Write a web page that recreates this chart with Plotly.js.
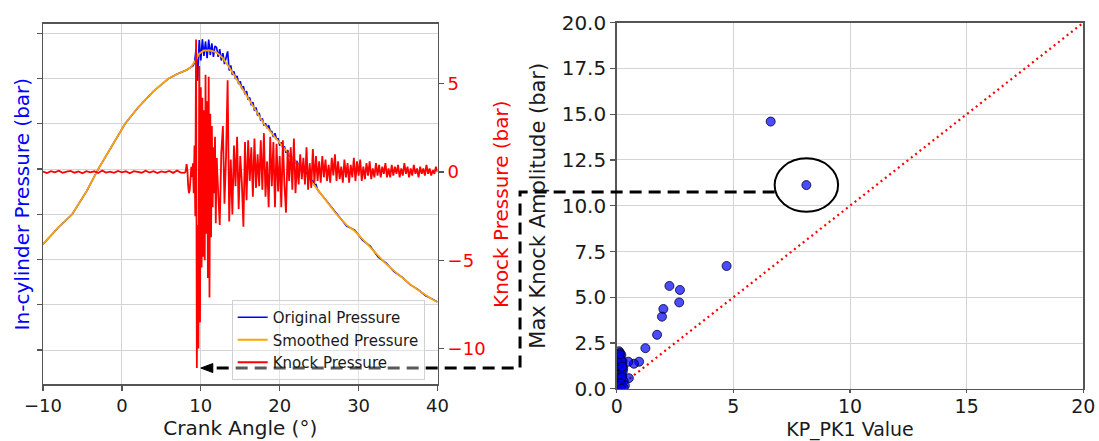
<!DOCTYPE html>
<html>
<head>
<meta charset="utf-8">
<script src="https://cdn.plot.ly/plotly-3.0.1.min.js"></script>
<style>html,body{margin:0;padding:0;background:#fff;}#chart{width:1099px;height:441px;}</style>
</head>
<body>
<div id="chart"></div>
<script>
// ---------------- DATA ----------------
// Left panel: in-cylinder pressure (bar, left axis, labels hidden in source)
const smoothAngle = [-10,-8,-6.3,-4.5,-3,-1.3,0.4,2,4,5.9,7,8.2,8.8,9.3,9.8,10.4,11.2,12,12.8,13.6,14.5,15.5,16.5,17.3,18,19,20,21,22,22.8,24,25,26,27.2,28.5,29.5,30.5,31.5,32.5,33.5,34.5,35.5,36.5,37.5,38.5,39.3,40];
const smoothPressure = [33.4,37.2,40,45,50,55,60,63.5,67.2,70,71,71.9,72.6,74,75.5,76.2,76.2,75.8,74.5,72.5,70,67.2,64.3,62,60,57.9,55.8,53.7,51.7,50,47.3,45,42.6,40,37.6,36.3,34.5,32.7,30.7,29,27.5,26,24.6,23.3,22.1,21.2,20.6];

const origAngle = [-10,-8,-6.3,-4.5,-3,-1.3,0.4,2,4,5.9,7,8.2,8.8,
  9.0,9.2,9.4,9.6,9.8,10.0,10.2,10.4,10.6,10.8,
  11.0,11.2,11.4,11.6,11.8,12.0,12.2,12.4,12.6,12.8,
  13.0,13.2,13.4,13.6,13.8,14.0,14.2,14.4,14.6,14.8,
  15.0,15.2,15.4,15.6,15.8,16.0,16.2,16.4,16.6,16.8,
  17.0,17.2,17.4,17.6,17.8,18.0,18.2,18.4,18.6,18.8,
  19.0,19.2,19.4,19.6,19.8,20.0,20.2,20.4,20.6,20.8,
  21.0,21.2,21.4,21.6,21.8,22.0,22.2,22.4,22.6,22.8,
  23.0,23.2,23.4,23.6,23.8,24.0,24.2,24.4,24.6,24.8,
  25.0,26,27.2,28.5,29.5,30.5,31.5,32.5,33.5,34.5,35.5,36.5,37.5,38.5,39.3,40];
const origPressure = [33.4,37.2,40,45,50,55,60,63.5,67.2,70,71,71.9,72.6,
  72.8,73.5,76.5,69.5,78.5,74.0,78.7,75.0,78.2,74.5,
  78.6,75.2,77.8,74.8,77.2,76.9,74.8,76.5,74.0,75.6,
  73.2,74.6,76.0,71.8,72.9,70.8,71.6,69.9,70.6,68.8,
  69.4,67.7,68.3,66.5,67.2,65.3,65.8,64.1,64.8,62.9,
  63.6,61.8,62.4,60.7,61.2,59.6,60.1,59.0,59.7,58.4,
  58.3,57.1,57.9,56.6,56.7,55.2,55.9,54.6,55.0,53.6,
  54.2,52.8,53.4,52.1,52.5,51.3,51.8,50.5,50.9,49.6,
  50.0,49.0,49.2,48.1,48.4,47.0,47.4,46.5,46.6,45.4,
  45.0,42.8,40.2,37.4,36.5,34.3,32.9,30.5,29.2,27.3,26.1,24.5,23.4,22.0,21.3,20.6];

// Knock pressure (bar, right axis), sampled on three grids
const knockStartA = -10, knockStepA = 0.5;   // -10 .. 8
const knockA = [0.03,-0.06,0.05,-0.02,0.07,-0.05,0.02,0.06,-0.04,0.03,
  -0.07,0.05,-0.02,0.04,-0.06,0.08,-0.03,0.02,-0.05,0.06,
  -0.02,0.04,-0.07,0.05,0.01,-0.04,0.07,-0.03,0.05,-0.06,
  0.03,-0.02,0.06,-0.05,0.08,-0.04,-0.05];
const knockStartB = 8, knockStepB = 0.1;     // 8 .. 12
const knockB = [-0.05,0.1,0.45,0.1,-0.8,-1.2,-1.0,-0.2,0.3,-0.3,
  0.5,-1.2,1.5,-2.5,7.5,-11.1,-3.0,-10.0,6.0,-8.5,
  4.8,-5.4,4.2,-4.8,3.5,-5.0,5.5,-3.5,4.0,-6.0,
  5.4,-7.1,3.3,-3.7,2.6,-2.0,1.4,-1.2,2.0,-2.9,
  0.8];
const knockStartC = 12, knockStepC = 0.2;    // 12 .. 40
const knockC = [0.8,-1.6,-3.0,1.1,2.6,-1.8,0.9,5.2,-2.8,0.7,
  -2.4,1.5,-0.8,2.0,-2.1,0.9,-0.6,-3.1,1.7,-1.6,
  1.8,-0.5,1.4,-1.4,1.9,-0.9,1.0,-0.8,1.8,-1.0,
  2.2,-1.4,0.6,-2.0,2.0,-0.8,1.7,-2.0,1.6,-1.1,
  0.9,-2.0,1.8,-0.7,-2.3,1.2,-0.5,1.4,-1.0,1.9,
  -1.2,0.6,-0.7,1.0,-0.4,0.8,-0.7,1.4,-1.0,0.5,
  -0.9,1.3,-0.6,0.9,-0.5,0.6,-0.6,0.9,-0.3,0.7,
  -0.5,0.4,-0.6,0.8,-0.2,1.0,-0.5,0.6,-0.4,0.3,
  -0.6,0.7,-0.3,0.5,-0.6,0.4,-0.3,0.8,-0.5,0.6,
  -0.2,0.7,-0.5,0.3,-0.4,0.5,-0.2,0.6,-0.4,0.2,
  -0.3,0.5,-0.2,0.4,-0.3,0.3,-0.1,0.5,-0.3,0.2,
  -0.3,0.4,-0.2,0.3,-0.1,0.4,-0.3,0.2,-0.2,0.5,
  -0.1,0.3,-0.3,0.2,-0.2,0.4,-0.1,0.2,-0.3,0.3,
  -0.1,0.2,-0.2,0.4,-0.1,0.2,-0.2,0.1,-0.1,0.3,
  0.0];

// Right panel: KP_PK1 value vs max knock amplitude
const kpValue = [6.6,8.13,4.71,2.26,2.71,2.68,2.0,1.94,1.73,1.23,0.96,0.74,0.5,0.52,
  0.1,0.15,0.2,0.12,0.18,0.25,0.1,0.22,0.15,0.28,0.12,0.2,0.17,0.1,0.24,0.14,0.2,0.3,
  0.12,0.18,0.22,0.15,0.1,0.26,0.19,0.13,0.21,0.16,0.11,0.23,0.35,0.3,0.2];
const maxAmplitude = [14.6,11.13,6.71,5.62,5.4,4.72,4.36,3.94,2.95,2.22,1.48,1.37,1.48,0.58,
  2.05,1.95,1.85,1.75,1.62,1.5,1.42,1.3,1.22,1.12,1.02,0.92,0.85,0.75,0.68,0.58,0.5,0.42,
  0.35,0.28,0.2,0.12,0.05,0.95,1.55,1.88,0.62,0.3,0.15,1.2,0.18,0.05,0.0];
const identityLine = [0, 20];
const circledIndex = 1;           // highlighted event
const connectorLevel = 10.75;     // level (right y) where dashed connector leaves the circle

// ---------------- LAYOUT GEOMETRY ----------------
const leftXDom = [0.03913, 0.39809], leftYDom = [0.12857, 0.94558];
const rightXDom = [0.56115, 0.98571], rightYDom = [0.11837, 0.94853];
const angleRange = [-10, 40], pressureRange = [2.42, 82.06], knockRange = [-12.02, 8.38];
const kpRange = [0, 20], ampRange = [0, 20];
const W = 1099, H = 441;
const FONT = '"DejaVu Sans", Verdana, sans-serif';
const AX = '#555555', GRID = '#d4d4d4';

function toPaper(v, dom, rng) { return dom[0] + (v - rng[0]) / (rng[1] - rng[0]) * (dom[1] - dom[0]); }

// knock minimum location
let minVal = Infinity, minIdx = 0;
knockB.forEach((v, i) => { if (v < minVal) { minVal = v; minIdx = i; } });
const knockMinAngle = knockStartB + minIdx * knockStepB;

const cx = kpValue[circledIndex], cy = maxAmplitude[circledIndex];
const rx = 1.36, ry = 1.46;

const startX = toPaper(cx - rx, rightXDom, kpRange);
const startY = toPaper(connectorLevel, rightYDom, ampRange);
const elbowX = 0.4732;
const endY = toPaper(minVal, leftYDom, knockRange);
const tipX = toPaper(knockMinAngle + 0.5, leftXDom, angleRange);
const headL = 12 / W, headH = 4.5 / H;

// ---------------- TRACES ----------------
const traces = [
  {x: origAngle, y: origPressure, xaxis: 'x', yaxis: 'y', type: 'scatter', mode: 'lines',
   name: 'Original Pressure', line: {color: '#0000ff', width: 1.6}},
  {x: smoothAngle, y: smoothPressure, xaxis: 'x', yaxis: 'y', type: 'scatter', mode: 'lines',
   name: 'Smoothed Pressure', line: {color: '#ffa500', width: 1.8}},
  {x0: knockStartA, dx: knockStepA, y: knockA, xaxis: 'x', yaxis: 'y2', type: 'scatter', mode: 'lines',
   name: 'Knock Pressure', legendgroup: 'knock', line: {color: '#ff0000', width: 1.8}},
  {x0: knockStartB, dx: knockStepB, y: knockB, xaxis: 'x', yaxis: 'y2', type: 'scatter', mode: 'lines',
   name: 'Knock Pressure', legendgroup: 'knock', showlegend: false, line: {color: '#ff0000', width: 1.8}},
  {x0: knockStartC, dx: knockStepC, y: knockC, xaxis: 'x', yaxis: 'y2', type: 'scatter', mode: 'lines',
   name: 'Knock Pressure', legendgroup: 'knock', showlegend: false, line: {color: '#ff0000', width: 1.8}},
  {x: identityLine, y: identityLine, xaxis: 'x3', yaxis: 'y3', type: 'scatter', mode: 'lines',
   showlegend: false, line: {color: '#ff0000', width: 2.2, dash: '2px,3.5px'}},
  {x: kpValue, y: maxAmplitude, xaxis: 'x3', yaxis: 'y3', type: 'scatter', mode: 'markers',
   showlegend: false, marker: {size: 9, color: 'rgba(0,0,255,0.7)', line: {color: 'rgba(0,0,40,0.8)', width: 1}}}
];

const common = {ticks: 'outside', ticklen: 5, tickcolor: AX, tickwidth: 1.2, showline: true, linecolor: AX,
  linewidth: 1.5, gridcolor: GRID, gridwidth: 1, zeroline: false, automargin: false};

const layout = {
  width: W, height: H, margin: {l: 0, r: 0, t: 0, b: 0},
  paper_bgcolor: '#ffffff', plot_bgcolor: '#ffffff',
  font: {family: FONT, color: '#1a1a1a'},
  showlegend: true,
  legend: {x: 0.2108, y: 0.3197, xanchor: 'left', yanchor: 'top', bgcolor: 'rgba(255,255,255,0.35)',
    bordercolor: '#d0d0d0', borderwidth: 1, tracegroupgap: 0,
    font: {size: 15, family: FONT, color: '#1a1a1a'}},
  xaxis: Object.assign({}, common, {domain: leftXDom, range: angleRange, anchor: 'y', dtick: 10, tick0: 0,
    mirror: true, showgrid: true, tickfont: {size: 18},
    title: {text: 'Crank Angle (°)', font: {size: 20}, standoff: 2}}),
  yaxis: Object.assign({}, common, {domain: leftYDom, range: pressureRange, anchor: 'x', dtick: 10, tick0: 0,
    showticklabels: false, showgrid: true,
    title: {text: 'In-cylinder Pressure (bar)', font: {size: 20, color: '#0000ff'}, standoff: 1}}),
  yaxis2: Object.assign({}, common, {overlaying: 'y', side: 'right', anchor: 'x', range: knockRange,
    dtick: 5, tick0: 0, showgrid: false, tickfont: {size: 18, color: '#ff0000'},
    title: {text: 'Knock Pressure (bar)', font: {size: 20, color: '#ff0000'}, standoff: 9}}),
  xaxis3: Object.assign({}, common, {domain: rightXDom, range: kpRange, anchor: 'y3', dtick: 5, tick0: 0,
    mirror: true, showgrid: true, tickfont: {size: 19}, ticklen: 3, ticklabelstandoff: -3,
    title: {text: 'KP_PK1 Value', font: {size: 19}, standoff: 8}}),
  yaxis3: Object.assign({}, common, {domain: rightYDom, range: ampRange, anchor: 'x3', dtick: 2.5, tick0: 0,
    tickformat: '.1f', mirror: true, showgrid: true, tickfont: {size: 20},
    title: {text: 'Max Knock Amplitude (bar)', font: {size: 21}, standoff: 10}}),
  shapes: [
    {type: 'circle', xref: 'x3', yref: 'y3', x0: cx - rx, x1: cx + rx, y0: cy - ry, y1: cy + ry,
     line: {color: '#000000', width: 2}, layer: 'above'},
    {type: 'path', xref: 'paper', yref: 'paper', layer: 'above',
     path: `M ${startX},${startY} H ${elbowX} V ${endY} H ${tipX + headL}`,
     line: {color: '#000000', width: 3, dash: '12px,7px'}},
    {type: 'path', xref: 'paper', yref: 'paper', layer: 'above',
     path: `M ${tipX},${endY} L ${tipX + headL},${endY + headH} L ${tipX + headL},${endY - headH} Z`,
     fillcolor: '#000000', line: {color: '#000000', width: 1}}
  ]
};

Plotly.newPlot('chart', traces, layout, {staticPlot: true, displayModeBar: false});
</script>
</body>
</html>
